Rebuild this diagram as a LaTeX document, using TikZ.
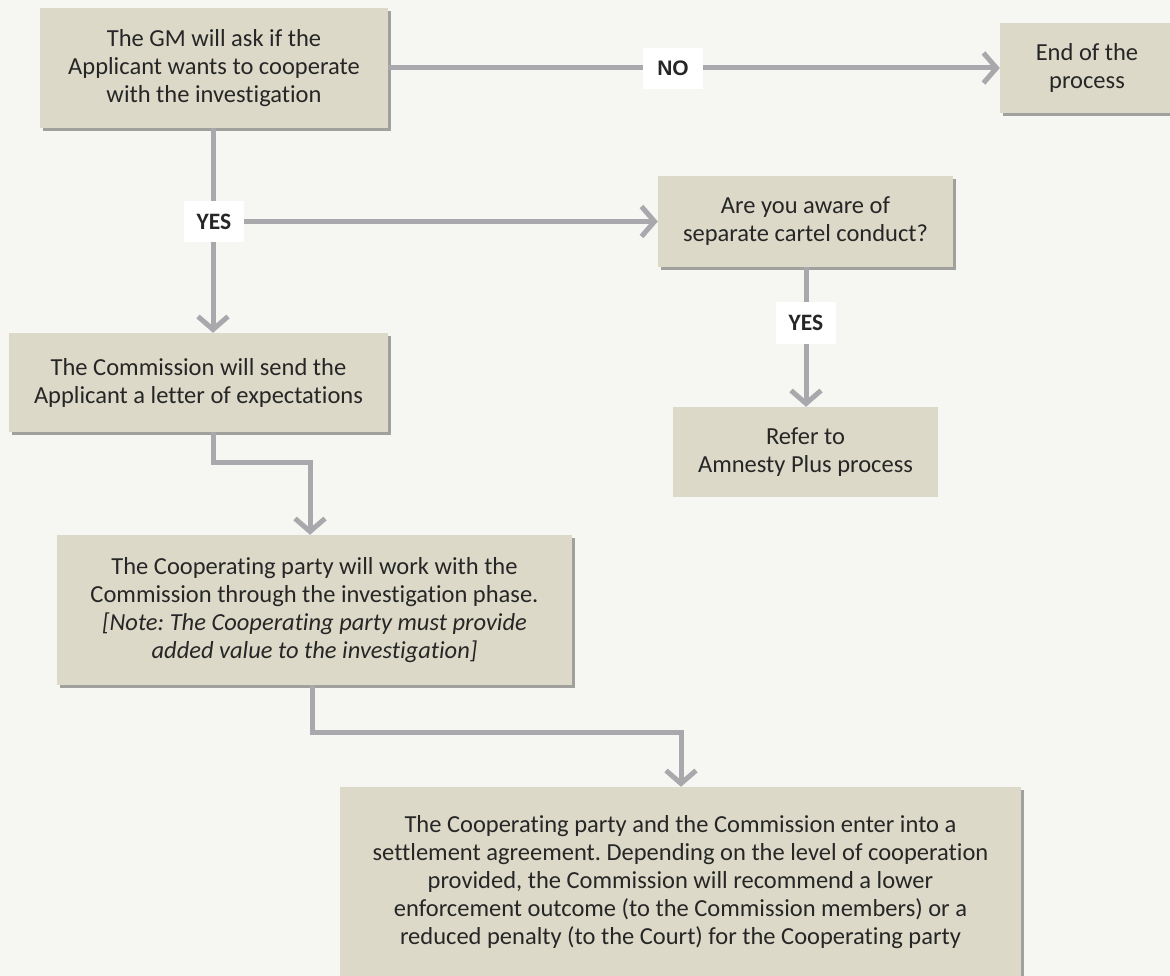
\documentclass[tikz,border=0pt]{standalone}
\usepackage{fontspec}
\setmainfont{Carlito}[Ligatures={NoCommon,NoContextual}]
\newfontfamily\arialfont{Liberation Sans}
\usetikzlibrary{arrows.meta,shadows}
\definecolor{bgc}{HTML}{F6F6F2}
\definecolor{boxc}{HTML}{DCD9C8}
\definecolor{linec}{HTML}{A9A9AD}
\definecolor{txtc}{HTML}{262626}
\frenchspacing
\begin{document}
\begin{tikzpicture}[x=1pt,y=-1pt,
  box/.style={fill=boxc, text=txtc, align=center, font=\fontsize{24.5}{28}\selectfont, inner sep=0pt},
  shad/.style={drop shadow={shadow xshift=3pt, shadow yshift=-3pt, fill=black, opacity=0.35}},
  lbl/.style={fill=white, text=txtc, inner sep=0pt, minimum width=60pt, minimum height=41pt, font=\fontsize{23.5}{23.5}\selectfont\bfseries},
  conn/.style={draw=linec, line width=5pt, -{Straight Barb[length=13pt,width=30pt]}}]
\useasboundingbox (0,0) rectangle (1170,976);
\fill[bgc] (0,0) rectangle (1170,976);
\clip (0,0) rectangle (1170,976);
% boxes
\node[box,shad,minimum width=348pt,minimum height=120pt] (q1) at (214,68) {The GM will ask if the\\Applicant wants to cooperate\\with the investigation};
\node[box,shad,minimum width=174pt,minimum height=90pt] (end) at (1087,68) {End of the\\process};
\node[box,shad,minimum width=295pt,minimum height=91pt] (aware) at (805.5,221.5) {Are you aware of\\separate cartel conduct?};
\node[box,minimum width=265pt,minimum height=90pt] (refer) at (805.5,452) {Refer to\\Amnesty Plus process};
\node[box,shad,minimum width=379pt,minimum height=99pt] (letter) at (198.5,382.5) {The Commission will send the\\Applicant a letter of expectations};
\node[box,shad,minimum width=515pt,minimum height=150pt] (work) at (314.5,610) {The Cooperating party will work with the\\Commission through the investigation phase.\\\textit{[Note: The Cooperating party must provide}\\\textit{added value to the investigation]}};
\node[box,shad,minimum width=681pt,minimum height=190pt] (settle) at (680.5,882) {The Cooperating party and the Commission enter into a\\settlement agreement. Depending on the level of cooperation\\provided, the Commission will recommend a lower\\enforcement outcome (to the Commission members) or a\\reduced penalty (to the Court) for the Cooperating party};
% helper coordinates
\coordinate (xA) at (213,0);
\coordinate (yA) at (0,221.5);
\coordinate (xB) at (806,0);
\coordinate (j1) at (213,462);
\coordinate (j2) at (310,462);
\coordinate (j3) at (312,732);
\coordinate (j4) at (681,732);
% connectors
\draw[conn] (q1.east) -- (end.west);
\draw[conn] (q1.south -| xA) -- (letter.north -| xA);
\draw[conn] (xA |- yA) -- (aware.west);
\draw[conn] (aware.south -| xB) -- (refer.north -| xB);
\draw[conn] (letter.south -| j1) -- (j1) -- (j2) -- (work.north -| j2);
\draw[conn] (work.south -| j3) -- (j3) -- (j4) -- (settle.north -| j4);
% labels
\node[lbl,font=\fontsize{21}{21}\selectfont\arialfont\bfseries] (no) at (673,68.5) {NO};
\node[lbl] (yes1) at (214,221.5) {YES};
\node[lbl] (yes2) at (806,323) {YES};
\end{tikzpicture}
\end{document}
